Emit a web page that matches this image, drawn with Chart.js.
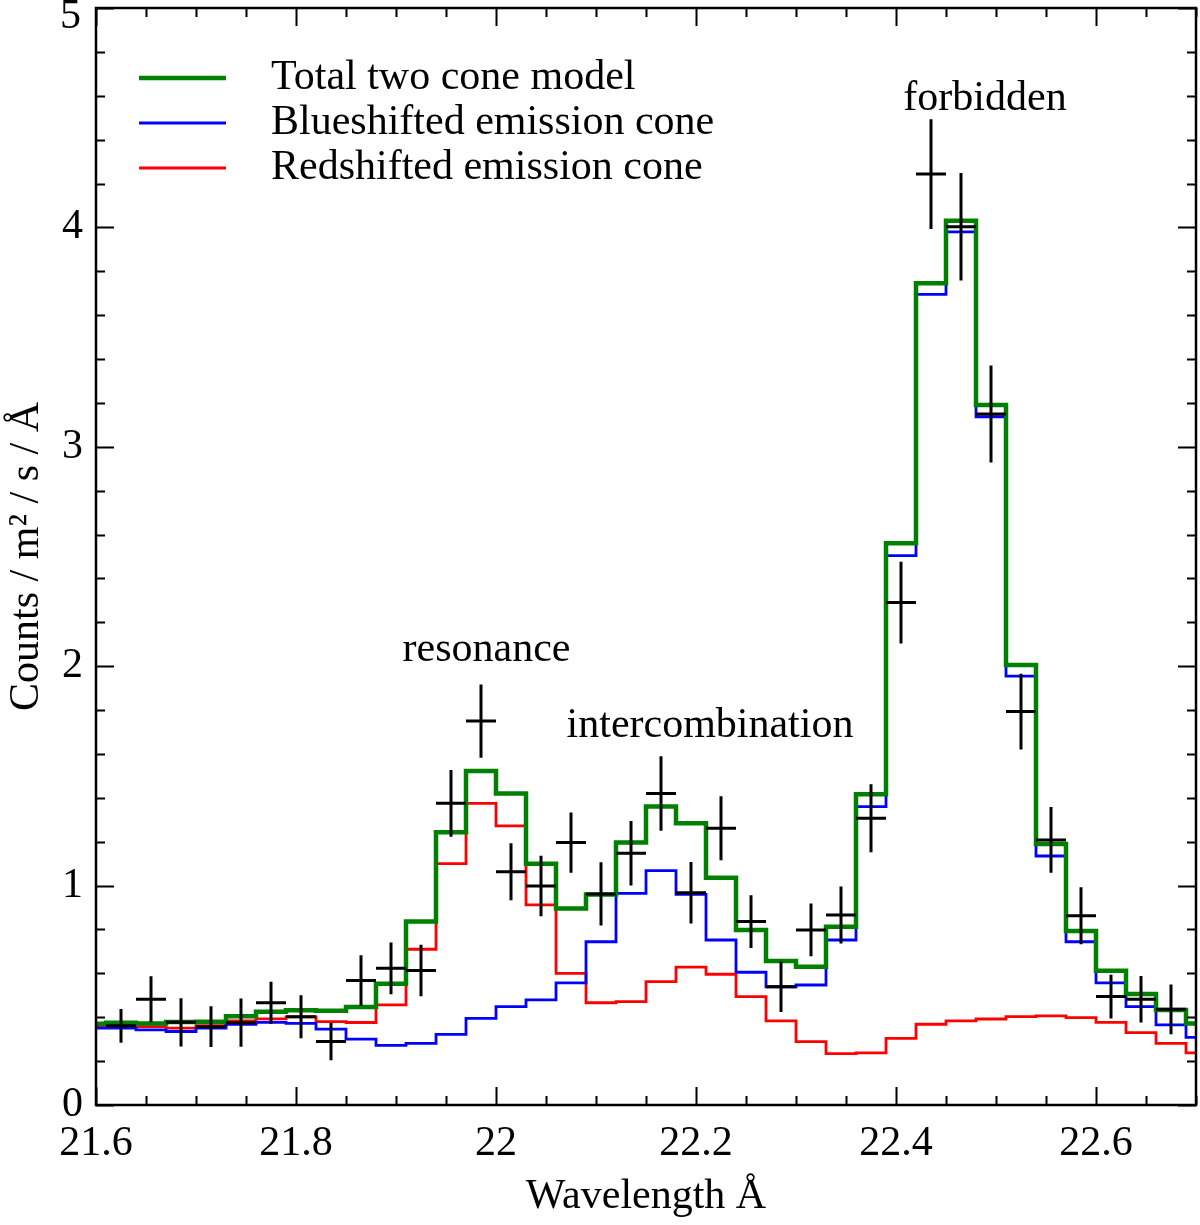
<!DOCTYPE html>
<html>
<head>
<meta charset="utf-8">
<script src="https://cdn.jsdelivr.net/npm/chart.js@4.4.1/dist/chart.umd.min.js"></script>
<style>
  html, body { margin: 0; padding: 0; background: #fff; }
  #wrap { width: 1200px; height: 1225px; }
</style>
</head>
<body>
<div id="wrap"><canvas id="SpecChart" width="1200" height="1225"></canvas></div>
<script>
// model bin centres (Angstrom), bins are 0.03 wide
const binCenters = [21.595, 21.625, 21.655, 21.685, 21.715, 21.745, 21.775, 21.805, 21.835, 21.865,
                    21.895, 21.925, 21.955, 21.985, 22.015, 22.045, 22.075, 22.105, 22.135, 22.165,
                    22.195, 22.225, 22.255, 22.285, 22.315, 22.345, 22.375, 22.405, 22.435, 22.465,
                    22.495, 22.525, 22.555, 22.585, 22.615, 22.645, 22.675, 22.705];
const binWidth = 0.03;

const totalModel = [0.370, 0.375, 0.372, 0.378, 0.380, 0.405, 0.425, 0.432, 0.430, 0.447,
                    0.553, 0.836, 1.243, 1.522, 1.420, 1.100, 0.896, 0.960, 1.196, 1.360,
                    1.284, 1.036, 0.798, 0.656, 0.630, 0.813, 1.416, 2.560, 3.745, 4.030,
                    3.190, 2.005, 1.190, 0.793, 0.612, 0.506, 0.433, 0.372];
const blueCone   = [0.350, 0.350, 0.342, 0.335, 0.350, 0.368, 0.377, 0.372, 0.346, 0.300,
                    0.272, 0.281, 0.322, 0.395, 0.448, 0.479, 0.557, 0.744, 0.965, 1.068,
                    0.960, 0.752, 0.605, 0.539, 0.547, 0.752, 1.360, 2.504, 3.695, 3.980,
                    3.137, 1.955, 1.135, 0.744, 0.557, 0.448, 0.365, 0.308];
const redCone    = [0.362, 0.362, 0.357, 0.350, 0.362, 0.383, 0.393, 0.402, 0.380, 0.376,
                    0.456, 0.710, 1.100, 1.375, 1.272, 0.912, 0.600, 0.466, 0.471, 0.562,
                    0.628, 0.596, 0.494, 0.383, 0.289, 0.234, 0.238, 0.304, 0.368, 0.383,
                    0.392, 0.403, 0.406, 0.398, 0.377, 0.330, 0.281, 0.238];

// measured spectrum with 1-sigma errors
const obsWave = [21.625, 21.655, 21.685, 21.715, 21.745, 21.775, 21.805, 21.835, 21.865, 21.895,
                 21.925, 21.955, 21.985, 22.015, 22.045, 22.075, 22.105, 22.135, 22.165, 22.195,
                 22.225, 22.255, 22.285, 22.315, 22.345, 22.375, 22.405, 22.435, 22.465, 22.495,
                 22.525, 22.555, 22.585, 22.615, 22.645, 22.675];
const obsCounts = [0.361, 0.482, 0.377, 0.357, 0.375, 0.466, 0.402, 0.289, 0.567, 0.623,
                   0.613, 1.375, 1.750, 1.063, 0.998, 1.196, 0.962, 1.147, 1.420, 0.967,
                   1.261, 0.836, 0.539, 0.798, 0.866, 1.307, 2.290, 4.243, 4.003, 3.149,
                   1.793, 1.208, 0.863, 0.494, 0.482, 0.436];
const obsErr = [0.077, 0.105, 0.110, 0.093, 0.110, 0.096, 0.098, 0.085, 0.116, 0.118,
                0.117, 0.152, 0.167, 0.130, 0.138, 0.137, 0.144, 0.147, 0.170, 0.140,
                0.146, 0.120, 0.115, 0.120, 0.130, 0.155, 0.186, 0.250, 0.245, 0.221,
                0.173, 0.150, 0.130, 0.100, 0.106, 0.113];

const xTicks = [21.6, 21.8, 22, 22.2, 22.4, 22.6];
const yTicks = [0, 1, 2, 3, 4, 5];

const lineNames = ["resonance", "intercombination", "forbidden"];
const lineNameWave = [21.9905, 22.214, 22.489];
const lineNameLevel = [2.024, 1.677, 4.535];

const FONT = "'Liberation Serif', 'Times New Roman', serif";
const FSIZE = 42;

// histogram as stepped line: left edge of every bin + closing right edge
function toSteps(values) {
    let pts = binCenters.map((c, i) => ({ x: c - binWidth / 2, y: values[i] }));
    let last = binCenters.length - 1;
    pts.push({ x: binCenters[last] + binWidth / 2, y: values[last] });
    return pts;
}

// error crosses as one broken line
function toCrosses() {
    let pts = [];
    obsWave.forEach((w, i) => {
        let v = obsCounts[i], e = obsErr[i];
        pts.push({ x: w, y: v - e }, { x: w, y: v + e }, { x: w, y: null });
        pts.push({ x: w - binWidth / 2, y: v }, { x: w + binWidth / 2, y: v }, { x: w, y: null });
    });
    return pts;
}

// frame + inward ticks on all four sides
const frameTicks = {
    id: "frameTicks",
    afterDatasetsDraw(chart) {
        const c = chart.ctx, a = chart.chartArea;
        const xs = chart.scales.x, ys = chart.scales.y;
        c.save();
        c.strokeStyle = "#000";
        c.lineWidth = 2;
        c.beginPath();
        for (let v = 21.6; v <= 22.7001; v += 0.05) {
            let px = Math.round(xs.getPixelForValue(v)) + 0.5;
            let major = Math.abs(Math.round(v * 5) - v * 5) < 1e-6;
            let len = major ? 18 : 9;
            c.moveTo(px, a.bottom); c.lineTo(px, a.bottom - len);
            c.moveTo(px, a.top); c.lineTo(px, a.top + len);
        }
        for (let v = 0; v <= 5.0001; v += 0.2) {
            let py = Math.round(ys.getPixelForValue(v)) + 0.5;
            let major = Math.abs(Math.round(v) - v) < 1e-6;
            let len = major ? 18 : 9;
            c.moveTo(a.left, py); c.lineTo(a.left + len, py);
            c.moveTo(a.right, py); c.lineTo(a.right - len, py);
        }
        c.stroke();
        c.lineWidth = 2.5;
        c.strokeRect(a.left, a.top, a.right - a.left, a.bottom - a.top);
        c.restore();
    }
};

// legend in the upper left corner, line names, and the top y label kept inside the canvas
const innerText = {
    id: "innerText",
    afterDraw(chart) {
        const c = chart.ctx;
        const xs = chart.scales.x, ys = chart.scales.y;
        c.save();
        c.font = FSIZE + "px " + FONT;
        c.fillStyle = "#000";
        c.textBaseline = "middle";
        c.textAlign = "left";
        chart.data.datasets.slice(0, 3).forEach((ds, i) => {
            let y = 78 + i * 45;
            c.strokeStyle = ds.borderColor;
            c.lineWidth = ds.borderWidth;
            c.beginPath();
            c.moveTo(139, y); c.lineTo(226, y);
            c.stroke();
            c.fillText(ds.label, 271, y);
        });
        c.textAlign = "right";
        let topVal = yTicks[yTicks.length - 1];
        c.fillText(String(topVal), 81, Math.max(ys.getPixelForValue(topVal), 17));
        c.textBaseline = "alphabetic";
        c.textAlign = "center";
        lineNames.forEach((t, i) => {
            c.fillText(t, xs.getPixelForValue(lineNameWave[i]), ys.getPixelForValue(lineNameLevel[i]));
        });
        c.restore();
    }
};

let specCanvas = document.getElementById("SpecChart").getContext("2d");
var specChart = new Chart(specCanvas, {
    type: "line",
    data: {
        datasets: [{
            label: "Total two cone model",
            data: toSteps(totalModel),
            stepped: "before",
            borderColor: "rgb(0, 128, 0)",
            borderWidth: 4.5,
            pointRadius: 0,
            order: 1
        }, {
            label: "Blueshifted emission cone",
            data: toSteps(blueCone),
            stepped: "before",
            borderColor: "rgb(0, 0, 255)",
            borderWidth: 2.8,
            pointRadius: 0,
            order: 2
        }, {
            label: "Redshifted emission cone",
            data: toSteps(redCone),
            stepped: "before",
            borderColor: "rgb(255, 0, 0)",
            borderWidth: 2.8,
            pointRadius: 0,
            order: 3
        }, {
            label: "Data",
            data: toCrosses(),
            borderColor: "#000",
            borderWidth: 3,
            pointRadius: 0,
            spanGaps: false,
            order: 0
        }]
    },
    options: {
        responsive: false,
        animation: false,
        devicePixelRatio: 1,
        layout: { padding: { top: 8, right: 4, left: 0, bottom: 0 } },
        plugins: {
            legend: { display: false },
            tooltip: { enabled: false }
        },
        scales: {
            x: {
                type: "linear",
                min: 21.6,
                max: 22.7,
                grid: { display: false },
                border: { display: false },
                afterBuildTicks: s => { s.ticks = xTicks.map(v => ({ value: v })); },
                afterFit: s => { s.height = 120; s.paddingLeft = 0; s.paddingRight = 0; },
                ticks: {
                    padding: 6,
                    maxRotation: 0,
                    color: "#000",
                    font: { family: FONT, size: FSIZE },
                    callback: v => String(+v.toFixed(1))
                },
                title: {
                    display: true,
                    text: "Wavelength Å",
                    color: "#000",
                    font: { family: FONT, size: FSIZE },
                    padding: { top: 0, bottom: 3 }
                }
            },
            y: {
                min: 0,
                max: 5,
                grid: { display: false },
                border: { display: false },
                afterBuildTicks: s => { s.ticks = yTicks.map(v => ({ value: v })); },
                afterFit: s => { s.width = 96; s.paddingTop = 0; s.paddingBottom = 0; },
                ticks: {
                    padding: 5,
                    color: "#000",
                    font: { family: FONT, size: FSIZE },
                    // the top label is drawn by innerText so it is not cut by the canvas edge
                    callback: v => (v === yTicks[yTicks.length - 1] ? "" : String(v))
                },
                title: {
                    display: true,
                    text: "Counts / m² / s / Å",
                    color: "#000",
                    font: { family: FONT, size: FSIZE },
                    padding: { top: 2, bottom: 0 }
                }
            }
        }
    },
    plugins: [frameTicks, innerText]
});
</script>
</body>
</html>
